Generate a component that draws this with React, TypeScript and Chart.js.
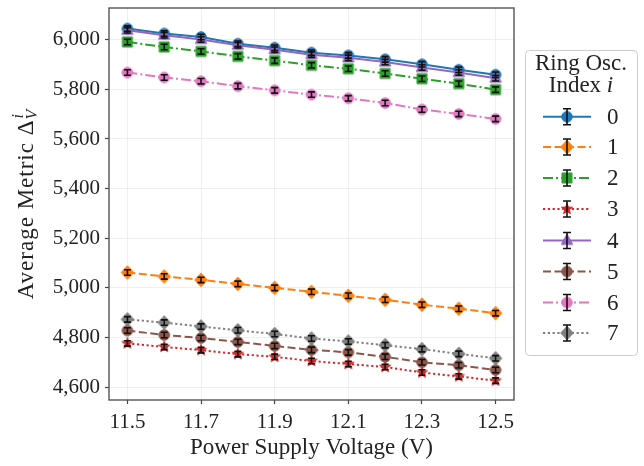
import React, { useEffect, useRef } from 'react';
import { Chart, registerables } from 'chart.js';

Chart.register(...registerables);

const FONT = '"Liberation Serif", "DejaVu Serif", serif';

const voltages = [11.5, 11.6, 11.7, 11.8, 11.9, 12.0, 12.1, 12.2, 12.3, 12.4, 12.5];
const xTicks = [11.5, 11.7, 11.9, 12.1, 12.3, 12.5];
const yTicks = [4600, 4800, 5000, 5200, 5400, 5600, 5800, 6000];
const ringIndices = ['0', '1', '2', '3', '4', '5', '6', '7'];

const ro0 = [6045, 6025, 6011, 5984, 5968, 5948, 5937, 5921, 5901, 5879, 5859];
const ro1 = [5062, 5046, 5032, 5016, 5000, 4984, 4968, 4952, 4932, 4916, 4898];
const ro2 = [5991, 5971, 5953, 5933, 5916, 5897, 5883, 5864, 5843, 5823, 5799];
const ro3 = [4776, 4762, 4749, 4733, 4722, 4705, 4693, 4681, 4659, 4643, 4626];
const ro4 = [6038, 6018, 6001, 5978, 5960, 5940, 5927, 5910, 5888, 5868, 5845];
const ro5 = [4828, 4810, 4798, 4782, 4766, 4750, 4740, 4722, 4700, 4688, 4669];
const ro6 = [5868, 5848, 5833, 5813, 5796, 5779, 5764, 5745, 5719, 5701, 5681];
const ro7 = [4873, 4860, 4844, 4829, 4814, 4796, 4784, 4769, 4753, 4734, 4716];

const err0 = [11, 11, 11, 11, 11, 11, 11, 11, 11, 11, 11];
const err1 = [11, 11, 11, 11, 11, 11, 11, 11, 11, 11, 11];
const err2 = [11, 11, 11, 11, 11, 11, 11, 11, 11, 11, 11];
const err3 = [11, 11, 11, 11, 11, 11, 11, 11, 11, 11, 11];
const err4 = [11, 11, 11, 11, 11, 11, 11, 11, 11, 11, 11];
const err5 = [11, 11, 11, 11, 11, 11, 11, 11, 11, 11, 11];
const err6 = [11, 11, 11, 11, 11, 11, 11, 11, 11, 11, 11];
const err7 = [11, 11, 11, 11, 11, 11, 11, 11, 11, 11, 11];

const values = [ro0, ro1, ro2, ro3, ro4, ro5, ro6, ro7];
const errors = [err0, err1, err2, err3, err4, err5, err6, err7];
const colors = ['#1f77b4', '#ff7f0e', '#2ca02c', '#d62728', '#9467bd', '#8c564b', '#e377c2', '#7f7f7f'];
const markers = ['circle', 'diamond', 'square', 'star', 'triangle', 'circle', 'circle', 'diamond'];
const DASHED = [8, 3.5];
const DASHDOT = [10, 3, 2, 3];
const DOTTED = [2.2, 2.6];
const dashes: number[][] = [[], DASHED, DASHDOT, DOTTED, [], DASHED, DASHDOT, DOTTED];

function shapePath(ctx: CanvasRenderingContext2D, kind: string, cx: number, cy: number) {
  ctx.beginPath();
  if (kind === 'circle') {
    ctx.arc(cx, cy, 5.3, 0, Math.PI * 2);
  } else if (kind === 'diamond') {
    ctx.moveTo(cx, cy - 6.8);
    ctx.lineTo(cx + 6.3, cy);
    ctx.lineTo(cx, cy + 6.8);
    ctx.lineTo(cx - 6.3, cy);
    ctx.closePath();
  } else if (kind === 'square') {
    ctx.rect(cx - 5, cy - 5, 10, 10);
  } else if (kind === 'triangle') {
    ctx.moveTo(cx, cy - 6.5);
    ctx.lineTo(cx + 5.8, cy + 4);
    ctx.lineTo(cx - 5.8, cy + 4);
    ctx.closePath();
  } else if (kind === 'star') {
    const R = 5.8, r = 2.4;
    for (let k = 0; k < 10; k++) {
      const a = -Math.PI / 2 + (k * Math.PI) / 5;
      const rr = k % 2 === 0 ? R : r;
      const px = cx + rr * Math.cos(a);
      const py = cy + rr * Math.sin(a);
      if (k === 0) ctx.moveTo(px, py);
      else ctx.lineTo(px, py);
    }
    ctx.closePath();
  }
}

function makeMarker(kind: string, color: string): HTMLCanvasElement {
  const c = document.createElement('canvas');
  c.width = 18;
  c.height = 18;
  const g = c.getContext('2d')!;
  shapePath(g, kind, 9, 9);
  g.fillStyle = color;
  g.fill();
  g.lineWidth = 1;
  g.strokeStyle = color;
  g.stroke();
  return c;
}

function drawErrorBar(ctx: CanvasRenderingContext2D, px: number, top: number, bot: number, cap: number) {
  ctx.beginPath();
  ctx.moveTo(px, top);
  ctx.lineTo(px, bot);
  ctx.moveTo(px - cap, top);
  ctx.lineTo(px + cap, top);
  ctx.moveTo(px - cap, bot);
  ctx.lineTo(px + cap, bot);
  ctx.stroke();
}

export default function App() {
  const ref = useRef<HTMLCanvasElement>(null);

  useEffect(() => {
    const canvas = ref.current!;
    const markerImgs = markers.map((m, i) => makeMarker(m, colors[i]));

    const datasets = values.map((vals, si) => ({
      label: ringIndices[si],
      data: voltages.map((v, i) => ({ x: v, y: vals[i] })),
      borderColor: colors[si],
      backgroundColor: colors[si],
      borderWidth: 2,
      borderDash: dashes[si],
      pointStyle: markerImgs[si] as any,
      pointRadius: 6,
      fill: false,
      tension: 0,
      order: 8 - si,
    }));

    const framePlugin = {
      id: 'frameAndErr',
      afterDatasetsDraw(chart: any) {
        const { ctx, chartArea, scales } = chart;
        const xs = scales.x, ys = scales.y;
        ctx.save();
        ctx.strokeStyle = '#111';
        ctx.lineWidth = 1.6;
        values.forEach((vals, si) => {
          voltages.forEach((v, i) => {
            const px = xs.getPixelForValue(v);
            const top = ys.getPixelForValue(vals[i] + errors[si][i]);
            const bot = ys.getPixelForValue(vals[i] - errors[si][i]);
            drawErrorBar(ctx, px, top, bot, 3.5);
          });
        });
        ctx.strokeStyle = '#555';
        ctx.lineWidth = 1.4;
        ctx.strokeRect(chartArea.left, chartArea.top, chartArea.right - chartArea.left, chartArea.bottom - chartArea.top);
        ctx.restore();
      },
      afterDraw(chart: any) {
        const { ctx, chartArea } = chart;
        ctx.save();
        ctx.fillStyle = '#222';
        // X title
        ctx.font = `23px ${FONT}`;
        ctx.textAlign = 'center';
        ctx.textBaseline = 'alphabetic';
        ctx.fillText('Power Supply Voltage (V)', (chartArea.left + chartArea.right) / 2, 454);
        // Y title
        ctx.save();
        ctx.translate(25, (chartArea.top + chartArea.bottom) / 2);
        ctx.rotate(-Math.PI / 2);
        ctx.textAlign = 'left';
        (ctx as any).letterSpacing = '1px';
        ctx.font = `23px ${FONT}`;
        const main = 'Average Metric Δ';
        const wMain = ctx.measureText(main).width;
        (ctx as any).letterSpacing = '0px';
        ctx.font = `italic 16px ${FONT}`;
        const wSc = Math.max(ctx.measureText('V').width, ctx.measureText('i').width);
        const total = wMain + 1 + wSc;
        const x0 = -total / 2;
        (ctx as any).letterSpacing = '1px';
        ctx.font = `23px ${FONT}`;
        ctx.fillText(main, x0, 8);
        (ctx as any).letterSpacing = '0px';
        ctx.font = `italic 16px ${FONT}`;
        ctx.fillText('i', x0 + wMain + 1, -2);
        ctx.fillText('V', x0 + wMain, 12);
        ctx.restore();

        // Legend
        const L = 525.5, T = 50.5, W = 112, H = 305;
        ctx.beginPath();
        const rad = 4;
        ctx.moveTo(L + rad, T);
        ctx.lineTo(L + W - rad, T);
        ctx.quadraticCurveTo(L + W, T, L + W, T + rad);
        ctx.lineTo(L + W, T + H - rad);
        ctx.quadraticCurveTo(L + W, T + H, L + W - rad, T + H);
        ctx.lineTo(L + rad, T + H);
        ctx.quadraticCurveTo(L, T + H, L, T + H - rad);
        ctx.lineTo(L, T + rad);
        ctx.quadraticCurveTo(L, T, L + rad, T);
        ctx.closePath();
        ctx.fillStyle = 'rgba(255,255,255,0.9)';
        ctx.fill();
        ctx.strokeStyle = '#cccccc';
        ctx.lineWidth = 1;
        ctx.stroke();

        ctx.fillStyle = '#222';
        ctx.textBaseline = 'middle';
        ctx.textAlign = 'center';
        ctx.font = `23px ${FONT}`;
        ctx.fillText('Ring Osc.', 581, 64);
        const part1 = 'Index ';
        const w1 = ctx.measureText(part1).width;
        ctx.font = `italic 23px ${FONT}`;
        const w2 = ctx.measureText('i').width;
        const sx = 581 - (w1 + w2) / 2;
        ctx.textAlign = 'left';
        ctx.font = `23px ${FONT}`;
        ctx.fillText(part1, sx, 86);
        ctx.font = `italic 23px ${FONT}`;
        ctx.fillText('i', sx + w1, 86);

        const rowY = [116.7, 147, 178, 209, 240.5, 271.5, 302.5, 333];
        ringIndices.forEach((lab, si) => {
          const y = rowY[si];
          ctx.save();
          ctx.strokeStyle = colors[si];
          ctx.lineWidth = 2;
          ctx.setLineDash(dashes[si]);
          ctx.beginPath();
          ctx.moveTo(543, y);
          ctx.lineTo(591, y);
          ctx.stroke();
          ctx.restore();
          ctx.drawImage(markerImgs[si], 567 - 9, y - 9);
          ctx.save();
          ctx.strokeStyle = '#111';
          ctx.lineWidth = 1.6;
          drawErrorBar(ctx, 567, y - 8, y + 8, 4);
          ctx.restore();
          ctx.fillStyle = '#222';
          ctx.font = `23px ${FONT}`;
          ctx.textAlign = 'left';
          ctx.fillText(lab, 607, y + 1);
        });
        ctx.restore();
      },
    };

    const chart = new Chart(canvas, {
      type: 'line',
      data: { datasets: datasets as any },
      options: {
        animation: false,
        responsive: false,
        maintainAspectRatio: false,
        layout: { padding: { left: 0, right: 130, top: 5, bottom: 0 } },
        plugins: { legend: { display: false }, tooltip: { enabled: false } },
        scales: {
          x: {
            type: 'linear',
            min: 11.45,
            max: 12.55,
            afterBuildTicks: (s: any) => {
              s.ticks = xTicks.map((v) => ({ value: v }));
            },
            afterFit: (s: any) => {
              s.height = 66;
              s.paddingLeft = 0;
              s.paddingRight = 0;
            },
            ticks: {
              color: '#222',
              font: { family: FONT, size: 21 },
              padding: 6,
              autoSkip: false,
              maxRotation: 0,
              callback: (v: any) => Number(v).toFixed(1),
            },
            grid: {
              color: '#ebebeb',
              lineWidth: 0.8,
              tickColor: '#444',
              tickLength: 4,
              tickWidth: 1.2,
            },
            border: { display: false },
          },
          y: {
            type: 'linear',
            min: 4548,
            max: 6128,
            afterBuildTicks: (s: any) => {
              s.ticks = yTicks.map((v) => ({ value: v }));
            },
            afterFit: (s: any) => {
              s.width = 109;
              s.paddingTop = 0;
              s.paddingBottom = 0;
            },
            ticks: {
              color: '#222',
              font: { family: FONT, size: 21 },
              padding: 5,
              autoSkip: false,
              callback: (v: any) => Number(v).toLocaleString('en-US'),
            },
            grid: {
              color: '#ebebeb',
              lineWidth: 0.8,
              tickColor: '#444',
              tickLength: 4,
              tickWidth: 1.2,
            },
            border: { display: false },
          },
        },
      },
      plugins: [framePlugin as any],
    });
    return () => chart.destroy();
  }, []);

  return (
    <canvas
      ref={ref}
      width={644}
      height={466}
      style={{ position: 'fixed', left: 0, top: 0, width: 644, height: 466, background: '#fff' }}
    />
  );
}
